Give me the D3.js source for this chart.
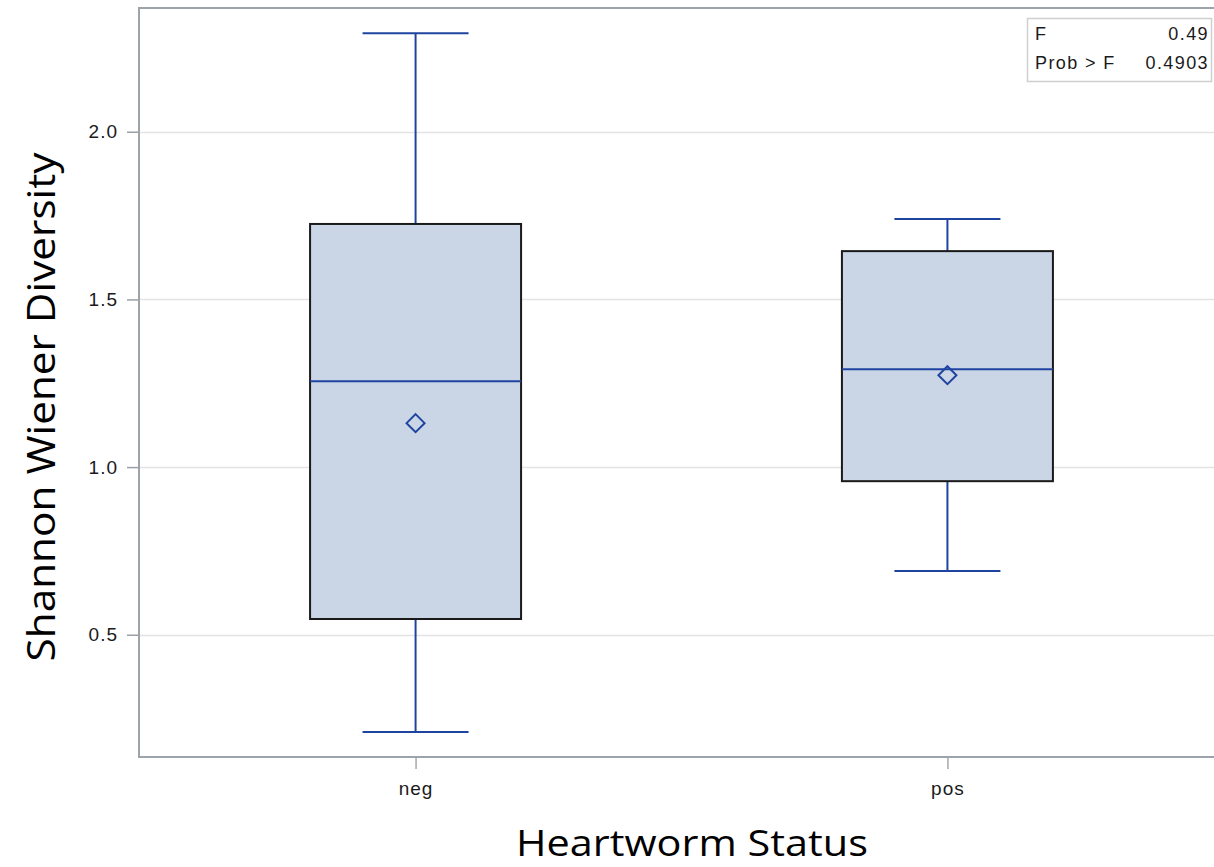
<!DOCTYPE html>
<html>
<head>
<meta charset="utf-8">
<script src="https://cdn.jsdelivr.net/npm/d3@7"></script>
<style>
html,body{margin:0;padding:0;background:#fff;}
svg{display:block;}
</style>
</head>
<body>
<svg id="chart" width="1214" height="867"></svg>
<script>
// ---- data ----
const categories = ["neg", "pos"];
const whiskerLow  = [0.21, 0.69];
const q1          = [0.547, 0.958];
const median      = [1.256, 1.292];
const q3          = [1.725, 1.644];
const whiskerHigh = [2.294, 1.740];
const means       = [1.131, 1.274];
const yTicks = [0.5, 1.0, 1.5, 2.0];
const statLabels = ["F", "Prob > F"];
const statValues = ["0.49", "0.4903"];

// ---- layout ----
const svg = d3.select("#chart");
const L = 139, R = 1224, T = 8, B = 757;
const y = d3.scaleLinear().domain([0.1355, 2.369]).range([B, T]);
const x = d3.scalePoint().domain(categories).range([L, R]).padding(0.52);
const boxW = 211, capW = 106;
const tickFont = "Liberation Sans, Arial, sans-serif";

// gridlines
svg.append("g").selectAll("line").data(yTicks).join("line")
  .attr("x1", L).attr("x2", R)
  .attr("y1", d => Math.round(y(d)) + 0.5).attr("y2", d => Math.round(y(d)) + 0.5)
  .attr("stroke", "#e3e3e3").attr("stroke-width", 1.5);

// y axis
const yAxis = svg.append("g").attr("transform", `translate(${L},0)`)
  .call(d3.axisLeft(y).tickValues(yTicks).tickFormat(d3.format(".1f")).tickSize(12).tickPadding(9));
yAxis.select(".domain").remove();
yAxis.selectAll(".tick line").attr("stroke", "#9aa0a6").attr("stroke-width", 1.5);
yAxis.selectAll("text").attr("font-family", tickFont).attr("font-size", 19)
  .attr("letter-spacing", 1).attr("fill", "#1a1a1a");

// x axis
const xAxis = svg.append("g").attr("transform", `translate(0,${B})`)
  .call(d3.axisBottom(x).tickSize(12).tickPadding(13));
xAxis.select(".domain").remove();
xAxis.selectAll(".tick line").attr("stroke", "#a8a8a8").attr("stroke-width", 1.5);
xAxis.selectAll("text").attr("font-family", tickFont).attr("font-size", 19)
  .attr("letter-spacing", 1).attr("fill", "#1a1a1a");

// frame
svg.append("path")
  .attr("d", `M${R},${T}H${L}V${B}H${R}`)
  .attr("fill", "none").attr("stroke", "#9ca3ab").attr("stroke-width", 2);

// boxes
const data = categories.map((c, i) => ({c, lo: whiskerLow[i], q1: q1[i], med: median[i], q3: q3[i], hi: whiskerHigh[i], mean: means[i]}));
const blue = "#1f44a0";
const g = svg.append("g").selectAll("g").data(data).join("g");

g.append("line").attr("x1", d => x(d.c)).attr("x2", d => x(d.c))
  .attr("y1", d => y(d.hi)).attr("y2", d => y(d.q3)).attr("stroke", blue).attr("stroke-width", 2);
g.append("line").attr("x1", d => x(d.c)).attr("x2", d => x(d.c))
  .attr("y1", d => y(d.q1)).attr("y2", d => y(d.lo)).attr("stroke", blue).attr("stroke-width", 2);
g.append("line").attr("x1", d => x(d.c) - capW/2).attr("x2", d => x(d.c) + capW/2)
  .attr("y1", d => y(d.hi)).attr("y2", d => y(d.hi)).attr("stroke", blue).attr("stroke-width", 2);
g.append("line").attr("x1", d => x(d.c) - capW/2).attr("x2", d => x(d.c) + capW/2)
  .attr("y1", d => y(d.lo)).attr("y2", d => y(d.lo)).attr("stroke", blue).attr("stroke-width", 2);

g.append("rect").attr("x", d => x(d.c) - boxW/2).attr("width", boxW)
  .attr("y", d => y(d.q3)).attr("height", d => y(d.q1) - y(d.q3))
  .attr("fill", "#cad5e5").attr("stroke", "#1a1a1a").attr("stroke-width", 2);

g.append("line").attr("x1", d => x(d.c) - boxW/2).attr("x2", d => x(d.c) + boxW/2)
  .attr("y1", d => y(d.med)).attr("y2", d => y(d.med)).attr("stroke", blue).attr("stroke-width", 2);

g.append("path").attr("transform", d => `translate(${x(d.c)},${y(d.mean)})`)
  .attr("d", "M0,-9L9,0L0,9L-9,0Z")
  .attr("fill", "none").attr("stroke", blue).attr("stroke-width", 2);

// stats inset
const ib = svg.append("g");
ib.append("rect").attr("x", 1027.5).attr("y", 18.5).attr("width", 184).attr("height", 63)
  .attr("fill", "#fff").attr("stroke", "#cfcfcf").attr("stroke-width", 1.5);
statLabels.forEach((s, i) => {
  ib.append("text").attr("x", 1035).attr("y", 40 + i * 29).text(s)
    .attr("font-family", tickFont).attr("font-size", 18).attr("letter-spacing", 1.4).attr("fill", "#1a1a1a");
  ib.append("text").attr("x", 1209).attr("y", 40 + i * 29).attr("text-anchor", "end").text(statValues[i])
    .attr("font-family", tickFont).attr("font-size", 18).attr("letter-spacing", 1.4).attr("fill", "#1a1a1a");
});

// axis titles
svg.append("text").attr("x", 692).attr("y", 856).attr("text-anchor", "middle")
  .attr("font-family", "Open Sans, sans-serif").attr("font-size", 36).attr("fill", "#000")
  .attr("textLength", 352).attr("lengthAdjust", "spacingAndGlyphs")
  .text("Heartworm Status");
svg.append("text").attr("transform", "translate(55,407) rotate(-90)").attr("text-anchor", "middle")
  .attr("font-family", "Open Sans, sans-serif").attr("font-size", 38).attr("fill", "#000")
  .attr("textLength", 509).attr("lengthAdjust", "spacingAndGlyphs")
  .text("Shannon Wiener Diversity");
</script>
</body>
</html>
